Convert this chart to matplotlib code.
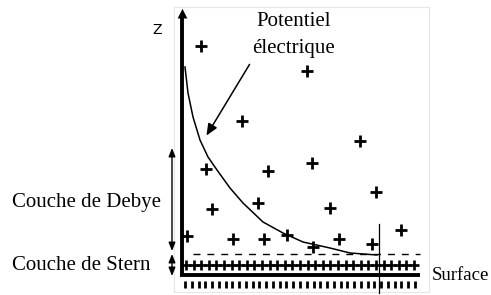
import numpy as np
import matplotlib.pyplot as plt

# Schematic of the electrical double layer (pixel coordinates, z grows downward on screen)
curve_x = [185, 188, 193, 200, 208, 217, 230, 243, 263, 283, 303, 330, 350, 377]
curve_z = [67, 93, 117, 140, 157, 170, 188, 203, 222, 233, 242, 248, 253, 255]

ion_x = [201, 307, 242, 360, 312, 206, 268, 376, 212, 258, 330, 187, 233, 264, 287, 313, 339, 372, 401]
ion_z = [46, 71, 121, 141, 163, 169, 171, 192, 209, 203, 208, 236, 239, 239, 235, 247, 239, 244, 230]

stern_count = 31
charge_count = 35

labels = ["Couche de Debye", "Couche de Stern", "Surface"]
serif = "Liberation Serif"

fig = plt.figure(figsize=(4.91, 2.95), dpi=100)
ax = fig.add_axes([0, 0, 1, 1])
ax.set_xlim(0, 491)
ax.set_ylim(295, 0)
ax.axis("off")

# faint picture frame
ax.plot([174, 429], [7, 7], color="#e6e6e6", lw=0.8)
ax.plot([174, 174], [7, 292], color="#e6e6e6", lw=0.8)
ax.plot([429, 429], [7, 292], color="#e6e6e6", lw=0.8)
ax.plot([174, 429], [292, 292], color="#e6e6e6", lw=0.8)

# z axis
ax.plot([182, 182], [274, 16], color="black", lw=2.8, solid_capstyle="butt")
ax.annotate("", xy=(182.5, 6), xytext=(182.5, 20),
            arrowprops=dict(arrowstyle="-|>,head_width=0.35,head_length=0.7",
                            color="black", lw=0))
ax.text(157, 30, "Z", fontsize=10, family="DejaVu Sans", ha="center", va="center")

# surface
ax.plot([180, 420], [274.5, 274.5], color="black", lw=2.8, solid_capstyle="butt")

# negative surface charges
tx = np.linspace(185, 415, charge_count)
ax.vlines(tx, 281, 288, color="black", lw=2.0)

# Stern layer ions
sx = np.linspace(186, 414, stern_count)
ax.plot(sx, np.full_like(sx, 264.5), ls="none", marker="+", ms=6.5, mew=1.9, color="black")

# outer Helmholtz plane
ax.plot([193, 420], [254, 254], color="black", lw=1.0, dashes=(5, 5))

# marker line
ax.plot([379, 379], [224, 293], color="black", lw=0.9)

# diffuse layer ions
ax.plot(ion_x, ion_z, ls="none", marker="+", ms=8, mew=2.0, color="black")

# potential curve
ax.plot(curve_x, curve_z, color="black", lw=1.1)

# label + arrow
ax.text(294, 22, "Potentiel", family=serif, fontsize=15, ha="center", va="center")
ax.text(294, 48, "électrique", family=serif, fontsize=15, ha="center", va="center")
ax.annotate("", xy=(205, 138), xytext=(251, 62),
            arrowprops=dict(arrowstyle="-|>,head_width=0.3,head_length=0.7",
                            color="black", lw=1.1))

# layer thickness arrows
arr = dict(arrowstyle="<|-|>,head_width=0.2,head_length=0.5", color="black", lw=1.0,
           shrinkA=0, shrinkB=0)
ax.annotate("", xy=(172, 148), xytext=(172, 251), arrowprops=arr)
ax.annotate("", xy=(172, 254), xytext=(172, 276), arrowprops=arr)

ax.text(12, 202, labels[0], family=serif, fontsize=15, ha="left", va="center")
ax.text(12, 266, labels[1], family=serif, fontsize=15, ha="left", va="center")
ax.text(432, 275, labels[2], family=serif, fontsize=13.5, ha="left", va="center")

fig.savefig("out.png", dpi=100)
